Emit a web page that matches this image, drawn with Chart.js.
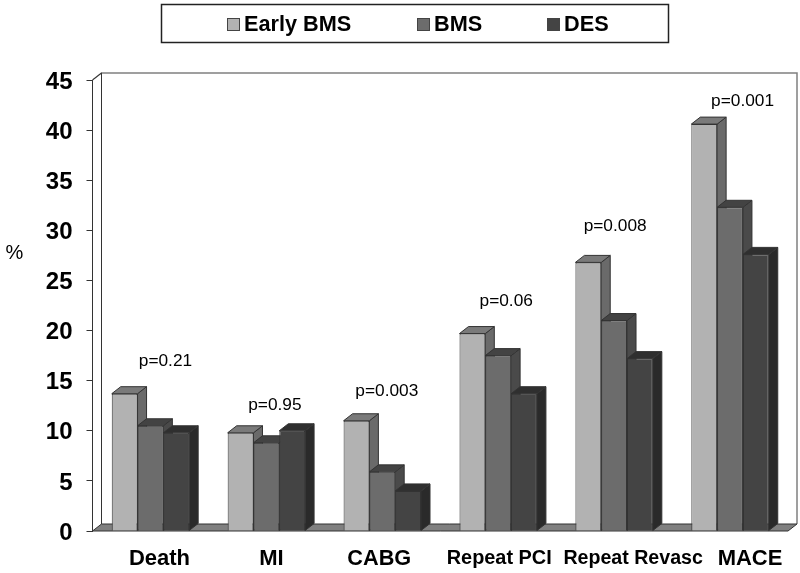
<!DOCTYPE html>
<html><head><meta charset="utf-8">
<style>html,body{margin:0;padding:0;background:#fff}#w{position:relative;width:800px;height:573px}</style>
<script src="https://cdn.jsdelivr.net/npm/chart.js@4"></script>
</head><body><div id="w"><canvas id="c" width="800" height="573"></canvas></div>
<script>
const categories = ['Death','MI','CABG','Repeat PCI','Repeat Revasc','MACE'];
const earlyBMS = [13.7,9.8,11,19.7,26.8,40.6];
const bms = [10.5,8.8,5.9,17.5,21,32.3];
const des = [9.8,10,4,13.7,17.2,27.6];
const seriesNames = ['Early BMS','BMS','DES'];
const pLabels = ['p=0.21','p=0.95','p=0.003','p=0.06','p=0.008','p=0.001'];
const pHeights = [17,12.6,14,23,30.5,43];
const pShift = [15,8.5,4.5,8,1,12.5];
const catShift = [9,5,-3,1,19,20];
const catSizes = [22,22,21.7,19.9,19.6,22];
const fronts = ['#b2b2b2','#6c6c6c','#444444'];
const sides = ['#6a6a6a','#4a4a4a','#2a2a2a'];
const tops = ['#7a7a7a','#434343','#2f2f2f'];
const legendX = [227,417,547];
const DX=9, DY=7, EDGE='#333333', FONT='"Liberation Sans", Arial, sans-serif';
function poly(ctx,pts,fill,stroke){
  ctx.beginPath();pts.forEach((p,i)=>i?ctx.lineTo(p[0],p[1]):ctx.moveTo(p[0],p[1]));ctx.closePath();
  if(fill){ctx.fillStyle=fill;ctx.fill();}
  if(stroke){ctx.strokeStyle=stroke;ctx.lineWidth=1;ctx.stroke();}
}
const solid3d={id:'solid3d',
  beforeDatasetsDraw(chart){
    const {ctx,chartArea:a}=chart;
    ctx.save();
    ctx.strokeStyle='#808080';ctx.lineWidth=1.5;
    ctx.beginPath();ctx.moveTo(a.left,a.top);ctx.lineTo(a.left+DX,a.top-DY);ctx.lineTo(a.right+DX,a.top-DY);ctx.lineTo(a.right+DX,a.bottom-DY);ctx.stroke();
    ctx.strokeStyle=EDGE;ctx.lineWidth=1;
    ctx.beginPath();ctx.moveTo(a.left,a.top);ctx.lineTo(a.left+DX,a.top-DY);ctx.lineTo(a.left+DX,a.bottom-DY);ctx.stroke();
    poly(ctx,[[a.left,a.bottom],[a.left+DX,a.bottom-DY],[a.right+DX,a.bottom-DY],[a.right,a.bottom]],'#808080',EDGE);
    categories.forEach((_,i)=>{
      chart.data.datasets.forEach((ds,d)=>{
        const b=chart.getDatasetMeta(d).data[i];
        const l=b.x-b.width/2,r=b.x+b.width/2,t=b.y,z=b.base;
        poly(ctx,[[r,t],[r+DX,t-DY],[r+DX,z-DY],[r,z]],sides[d],EDGE);
        poly(ctx,[[l,t],[l+DX,t-DY],[r+DX,t-DY],[r,t]],tops[d],EDGE);
      });
    });
    ctx.restore();
  },
  afterDraw(chart){
    const {ctx,chartArea:a,scales:{x,y}}=chart;
    ctx.save();
    ctx.textBaseline='middle';ctx.fillStyle='#000';
    ctx.textAlign='center';
    categories.forEach((c,i)=>{
      ctx.font='bold '+catSizes[i]+'px '+FONT;
      ctx.fillText(c,x.getPixelForTick(i)+catShift[i],559);
    });
    ctx.font='17.3px '+FONT;
    pLabels.forEach((p,i)=>ctx.fillText(p,x.getPixelForTick(i)+pShift[i],y.getPixelForValue(pHeights[i])+1));
    ctx.font='20px '+FONT;
    ctx.fillText('%',14.5,253);
    ctx.strokeStyle='#222';ctx.lineWidth=1.5;ctx.strokeRect(161.5,4.5,507,38);
    ctx.textAlign='left';ctx.font='bold 21.7px '+FONT;
    seriesNames.forEach((n,i)=>{
      ctx.fillStyle=fronts[i];ctx.fillRect(legendX[i]+.5,18.5,12,12);
      ctx.strokeStyle='#444';ctx.lineWidth=1;ctx.strokeRect(legendX[i]+.5,18.5,12,12);
      ctx.fillStyle='#000';ctx.fillText(n,legendX[i]+17,25);
    });
    ctx.restore();
  }
};
new Chart(document.getElementById('c'),{
  type:'bar',
  data:{labels:categories,datasets:[
    {label:seriesNames[0],data:earlyBMS,backgroundColor:fronts[0]},
    {label:seriesNames[1],data:bms,backgroundColor:fronts[1]},
    {label:seriesNames[2],data:des,backgroundColor:fronts[2]}
  ].map(d=>({...d,borderColor:EDGE,borderWidth:1,categoryPercentage:0.668,barPercentage:1}))},
  plugins:[solid3d],
  options:{
    responsive:false,animation:false,
    layout:{padding:{left:0,right:12,top:80,bottom:0}},
    plugins:{legend:{display:false},tooltip:{enabled:false}},
    scales:{
      x:{afterFit(s){s.height=42;},grid:{display:false},border:{display:false},ticks:{display:false}},
      y:{min:0,max:45,afterFit(s){s.width=92.5;},
        ticks:{stepSize:5,padding:14,labelOffset:2,color:'#000',font:{family:FONT,size:24,weight:'bold'}},
        grid:{drawOnChartArea:false,drawTicks:true,tickLength:6,color:EDGE},
        border:{display:true,color:EDGE,width:1}}
    }
  }
});
</script></body></html>
